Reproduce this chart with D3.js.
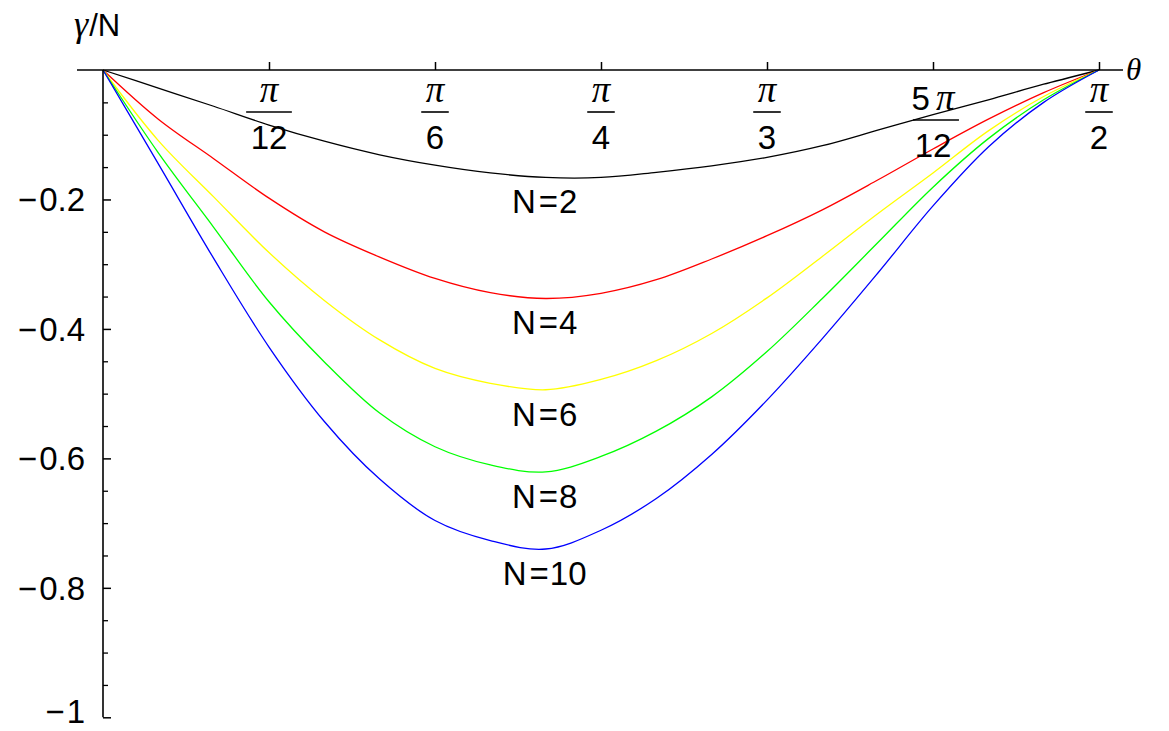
<!DOCTYPE html>
<html>
<head>
<meta charset="utf-8">
<script src="https://cdn.jsdelivr.net/npm/d3@7"></script>
<style>
  html, body { margin: 0; padding: 0; background: #fff; }
  svg { display: block; }
  .num { font-family: "Liberation Sans", Arial, sans-serif; fill: #000; }
  .sym { font-family: "Liberation Serif", "Times New Roman", serif; font-style: italic; fill: #000; }
</style>
</head>
<body>
<svg id="chart" width="1169" height="731"></svg>
<script>
// Angle grid (degrees) shared by every curve
const thetaDeg = [0, 5, 10, 15, 20, 25, 30, 35, 40, 45, 50, 55, 60, 65, 70, 75, 80, 85, 90];

// gamma/N for each particle number N
const seriesN = [2, 4, 6, 8, 10];
const gammaN2  = [0, -0.028, -0.056, -0.085, -0.110, -0.131, -0.147, -0.159, -0.166, -0.166, -0.158, -0.148, -0.135, -0.117, -0.093, -0.069, -0.046, -0.022, 0];
const gammaN4  = [0, -0.076, -0.137, -0.198, -0.250, -0.289, -0.322, -0.344, -0.353, -0.345, -0.324, -0.292, -0.256, -0.216, -0.170, -0.122, -0.076, -0.035, 0];
const gammaN6  = [0, -0.109, -0.196, -0.282, -0.356, -0.417, -0.461, -0.484, -0.494, -0.478, -0.449, -0.407, -0.352, -0.288, -0.222, -0.159, -0.094, -0.041, 0];
const gammaN8  = [0, -0.128, -0.243, -0.358, -0.451, -0.530, -0.582, -0.610, -0.621, -0.597, -0.558, -0.505, -0.435, -0.353, -0.267, -0.181, -0.106, -0.046, 0];
const gammaN10 = [0, -0.145, -0.291, -0.428, -0.543, -0.632, -0.696, -0.727, -0.740, -0.711, -0.662, -0.594, -0.510, -0.415, -0.314, -0.210, -0.119, -0.050, 0];
const seriesValues = [gammaN2, gammaN4, gammaN6, gammaN8, gammaN10];
const seriesColors = ["#000000", "#ff0000", "#ffff00", "#00ff00", "#0000ff"];

// Axis ticks
const xTickDeg = [15, 30, 45, 60, 75, 90];
const xTickNum = ["π", "π", "π", "π", "5π", "π"];
const xTickDen = ["12", "6", "4", "3", "12", "2"];
const yMajorTicks = [-0.2, -0.4, -0.6, -0.8, -1];
const yTickLabels = ["−0.2", "−0.4", "−0.6", "−0.8", "−1"];
const yMinorTicks = d3.range(1, 21).map(i => -i * 0.05).filter(v => Math.abs(v * 5 - Math.round(v * 5)) > 1e-6);

const svg = d3.select("#chart");

const x = d3.scaleLinear().domain([0, 90]).range([103, 1099]);
const y = d3.scaleLinear().domain([0, -1]).range([70, 717.3]);

// Curves
const line = d3.line()
  .x(d => x(d[0]))
  .y(d => y(d[1]))
  .curve(d3.curveCatmullRom.alpha(0.5));

seriesValues.forEach((vals, i) => {
  const pts = thetaDeg.map((t, j) => [t, vals[j]]);
  svg.append("path")
    .attr("d", line(pts))
    .attr("fill", "none")
    .attr("stroke", seriesColors[i])
    .attr("stroke-width", 1.3);
});

// Horizontal axis
svg.append("line")
  .attr("x1", 77).attr("x2", 1123)
  .attr("y1", y(0)).attr("y2", y(0))
  .attr("stroke", "#000").attr("stroke-width", 1.6);

const xAxis = svg.append("g")
  .attr("transform", `translate(0,${y(0)})`)
  .call(d3.axisTop(x).tickValues(xTickDeg).tickSize(8).tickFormat(""));
xAxis.select(".domain").remove();
xAxis.selectAll(".tick line").attr("stroke", "#000").attr("stroke-width", 1.5);

// Vertical axis
svg.append("line")
  .attr("x1", x(0)).attr("x2", x(0))
  .attr("y1", y(0)).attr("y2", y(-1))
  .attr("stroke", "#000").attr("stroke-width", 1.6);

const yAxisMajor = svg.append("g")
  .attr("transform", `translate(${x(0)},0)`)
  .call(d3.axisRight(y).tickValues(yMajorTicks).tickSize(8).tickFormat(""));
yAxisMajor.select(".domain").remove();
yAxisMajor.selectAll(".tick line").attr("stroke", "#000").attr("stroke-width", 1.5);

const yAxisMinor = svg.append("g")
  .attr("transform", `translate(${x(0)},0)`)
  .call(d3.axisRight(y).tickValues(yMinorTicks).tickSize(5).tickFormat(""));
yAxisMinor.select(".domain").remove();
yAxisMinor.selectAll(".tick line").attr("stroke", "#000").attr("stroke-width", 1.3);

// Vertical tick labels (kept inside the drawing at the bottom edge)
const yLab = svg.append("g").selectAll("text")
  .data(yMajorTicks)
  .join("text")
  .attr("class", "num")
  .attr("x", 85)
  .attr("y", d => Math.min(y(d) + 12, 723))
  .attr("text-anchor", "end")
  .attr("font-size", 33);
yLab.append("tspan").text((d, i) => yTickLabels[i].charAt(0));
yLab.append("tspan").attr("dx", 2).text((d, i) => yTickLabels[i].slice(1));

// Horizontal tick labels as stacked fractions
xTickDeg.forEach((t, i) => {
  const cx = x(t);
  const tall = /\d/.test(xTickNum[i]);
  const dy = tall ? 8 : 0;
  const g = svg.append("g");
  const numText = g.append("text")
    .attr("x", cx)
    .attr("y", 102 + dy)
    .attr("text-anchor", "middle");
  if (tall) {
    const digits = xTickNum[i].replace("π", "");
    numText.append("tspan").attr("class", "num").attr("font-size", 33).text(digits);
    numText.append("tspan").attr("class", "sym").attr("font-size", 37).attr("dx", 6).text("π");
  } else {
    numText.append("tspan").attr("class", "sym").attr("font-size", 37).text("π");
  }
  const den = g.append("text")
    .attr("class", "num")
    .attr("x", cx)
    .attr("y", 149 + dy)
    .attr("text-anchor", "middle")
    .attr("font-size", 33)
    .text(xTickDen[i]);
  const w = Math.max(den.node().getComputedTextLength(), numText.node().getComputedTextLength()) + 9;
  g.append("line")
    .attr("x1", cx - w / 2 + (tall ? 3 : 0)).attr("x2", cx + w / 2 + (tall ? 3 : 0))
    .attr("y1", 112 + dy).attr("y2", 112 + dy)
    .attr("stroke", "#000").attr("stroke-width", 1.6);
});

// Axis titles
const yTitle = svg.append("text").attr("x", 74).attr("y", 36);
yTitle.append("tspan").attr("class", "sym").attr("font-size", 36).text("γ");
yTitle.append("tspan").attr("class", "num").attr("font-size", 31).attr("dx", 1).text("/N");

svg.append("text")
  .attr("class", "sym")
  .attr("x", 1126)
  .attr("y", 80)
  .attr("font-size", 31)
  .text("θ");

// Curve labels placed under each minimum
seriesValues.forEach((vals, i) => {
  const minVal = d3.min(vals);
  const lab = svg.append("text")
    .attr("class", "num")
    .attr("x", x(40) - 1)
    .attr("y", y(minVal) + 36)
    .attr("text-anchor", "middle")
    .attr("font-size", 33);
  lab.append("tspan").text("N");
  lab.append("tspan").attr("dx", 3).text("=");
  lab.append("tspan").attr("dx", 1).text(seriesN[i]);
});
</script>
</body>
</html>
